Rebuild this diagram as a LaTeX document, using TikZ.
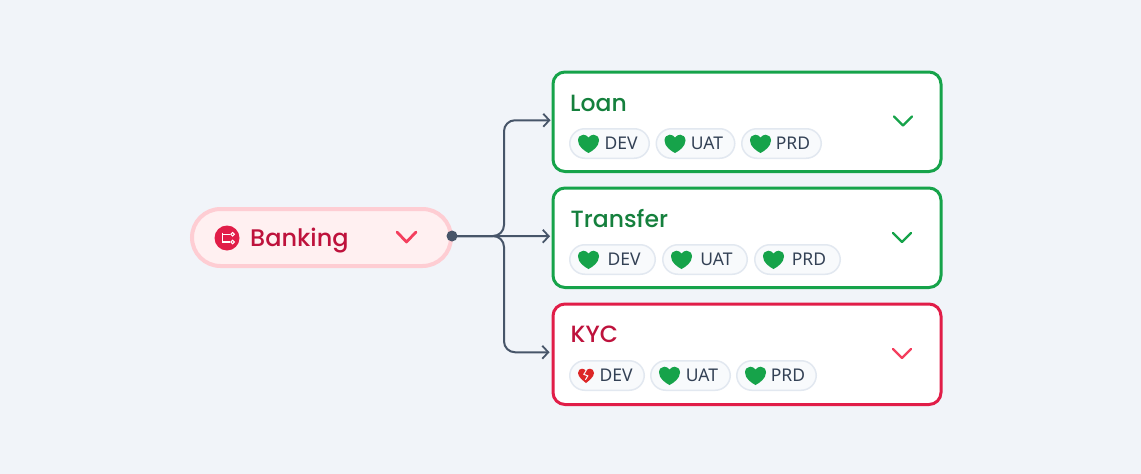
\documentclass[tikz,border=0pt]{standalone}
\usepackage{fontspec}
\setmainfont{Poppins Medium}
\newfontfamily\pillfont{Noto Sans}
\usetikzlibrary{positioning,calc,arrows.meta}
\definecolor{bgfill}{HTML}{F1F4F9}
\definecolor{goodline}{HTML}{16A34A}
\definecolor{goodtext}{HTML}{15803D}
\definecolor{badline}{HTML}{E11D48}
\definecolor{badtext}{HTML}{BE123C}
\definecolor{badsoft}{HTML}{F43F5E}
\definecolor{rootfill}{HTML}{FFF0F1}
\definecolor{rootline}{HTML}{FECDD3}
\definecolor{pillfill}{HTML}{F8FAFC}
\definecolor{pillline}{HTML}{E2E8F0}
\definecolor{pilltext}{HTML}{334155}
\definecolor{wirecol}{HTML}{475569}
\definecolor{brokenred}{HTML}{DC2626}
\tikzset{
	card/.style={draw=#1, line width=3pt, fill=white, rounded corners=12pt, minimum width=388pt, minimum height=99.5pt, anchor=north west, inner sep=0pt},
	root/.style={draw=rootline, fill=rootfill, line width=4pt, rounded corners=28.5pt, minimum width=259pt, minimum height=57pt, inner sep=0pt},
	title/.style={anchor=base west, inner sep=0pt, font=\fontsize{23.5}{28}\selectfont},
	pill/.style={draw=pillline, fill=pillfill, line width=1.5pt, rounded corners=15pt, minimum height=29.5pt, minimum width=#1, inner sep=0pt, text=pilltext, font=\pillfont\fontsize{17.5}{20}\selectfont},
	wire/.style={draw=wirecol, line width=2pt, rounded corners=11pt, -{Straight Barb[length=6pt,width=13pt,line width=1.8pt]}},
	pics/heart/.style={code={
		\fill[goodline] (0,9.5) .. controls (-4,7.5) and (-10.5,3) .. (-10.5,-3) .. controls (-10.5,-6.5) and (-8,-8.8) .. (-5.3,-8.8) .. controls (-3.2,-8.8) and (-1.2,-7.8) .. (0,-5.8) .. controls (1.2,-7.8) and (3.2,-8.8) .. (5.3,-8.8) .. controls (8,-8.8) and (10.5,-6.5) .. (10.5,-3) .. controls (10.5,3) and (4,7.5) .. (0,9.5) -- cycle;
	}},
	pics/brokenheart/.style={code={
		\fill[brokenred] (0,7.5) .. controls (-2.5,5.5) and (-8,1.5) .. (-8,-2.5) .. controls (-8,-5.2) and (-6,-6.8) .. (-4,-6.8) .. controls (-2.5,-6.8) and (-1,-6) .. (0,-4.5) .. controls (1,-6) and (2.5,-6.8) .. (4,-6.8) .. controls (6,-6.8) and (8,-5.2) .. (8,-2.5) .. controls (8,1.5) and (2.5,5.5) .. (0,7.5) -- cycle;
		\draw[pillfill, line width=1pt] (0.3,-5.2) -- (-2.2,-1.2) -- (1.8,0.4) -- (-0.6,4.2);
	}},
	pics/chevron/.style={code={
		\draw[#1, line width=2.2pt, line cap=round, line join=round] (-9,-4.5) -- (0,4.5) -- (9,-4.5);
	}},
	pics/rootchevron/.style={code={
		\draw[badsoft, line width=2.8pt, line cap=round, line join=round] (-9.5,-5) -- (0,5) -- (9.5,-5);
	}},
}
\begin{document}
\begin{tikzpicture}[x=1pt, y=-1pt]
	\fill[bgfill] (0,0) rectangle (1141,474);
	\useasboundingbox (0,0) rectangle (1141,474);

	% root
	\node[root] (banking) at (321.5,237.5) {};
	\node[circle, fill=badline, minimum size=25pt, inner sep=0pt] (bankicon) at (227,238) {};
	\node[title, text=badtext, font=\fontsize{24}{28}\selectfont] (banktitle) at (250,246.5) {Banking};
	\pic at (406.5,237) {rootchevron};
	\draw[white, line width=1.3pt] (230,234.3) -- (221.7,234.3) (222.2,232.5) -- (222.2,242) -- (230,242);
	\draw[white, line width=1pt] (232.6,234.3) circle (1.8) (232.6,242) circle (1.8);

	% cards
	\node[card=goodline] (loan) at (551.5,70.5) {};
	\node[card=goodline] (transfer) at (551.5,186.5) {};
	\node[card=badline, minimum height=100.5pt] (kyc) at (551.5,302.5) {};

	\node[title, text=goodtext] (loantitle) at (570,111) {Loan};
	\node[title, text=goodtext] (transfertitle) at (570.5,227) {Transfer};
	\node[title, text=badtext] (kyctitle) at (570.5,342.5) {KYC};

	\pic at (903,121) {chevron=goodline};
	\pic at (902,237.5) {chevron=goodline};
	\pic at (902,353.5) {chevron=badsoft};

	% pills
	\node[pill=79.5pt, anchor=west] (loandev) at (569,143.5) {\hspace*{23pt}DEV};
	\node[pill=78.5pt, right=5.5pt of loandev] (loanuat) {\hspace*{23pt}UAT};
	\node[pill=79.5pt, right=5.5pt of loanuat] (loanprd) {\hspace*{23pt}PRD};

	\node[pill=85.5pt, anchor=west] (transferdev) at (569,259.5) {\hspace*{23pt}DEV};
	\node[pill=84.5pt, right=6pt of transferdev] (transferuat) {\hspace*{23pt}UAT};
	\node[pill=85.5pt, right=6pt of transferuat] (transferprd) {\hspace*{23pt}PRD};

	\node[pill=74.5pt, anchor=west] (kycdev) at (569,375.5) {\hspace*{18pt}DEV};
	\node[pill=79.5pt, right=5pt of kycdev] (kycuat) {\hspace*{23pt}UAT};
	\node[pill=79.5pt, right=5pt of kycuat] (kycprd) {\hspace*{23pt}PRD};

	\foreach \pillname in {loandev,loanuat,loanprd,transferdev,transferuat,transferprd,kycuat,kycprd}
		\pic at ($(\pillname.west)+(19.5,0)$) {heart};
	\pic at ($(kycdev.west)+(17,0)$) {brokenheart};

	% wires
	\coordinate (spine) at (504,236);
	\coordinate (loanin) at ($(loan.west)+(-1,-1.5)$);
	\coordinate (transferin) at ($(transfer.west)+(-1.5,-1.5)$);
	\coordinate (kycin) at ($(kyc.west)+(-2,-2)$);
	\draw[wire] (banking.east |- spine) -- (spine) |- (loanin);
	\draw[wire] (banking.east |- spine) -- (spine) |- (kycin);
	\draw[wire] (banking.east |- spine) -- (transferin);
	\node[circle, fill=wirecol, minimum size=11pt, inner sep=0pt] (hubdot) at (452,236) {};
\end{tikzpicture}
\end{document}
